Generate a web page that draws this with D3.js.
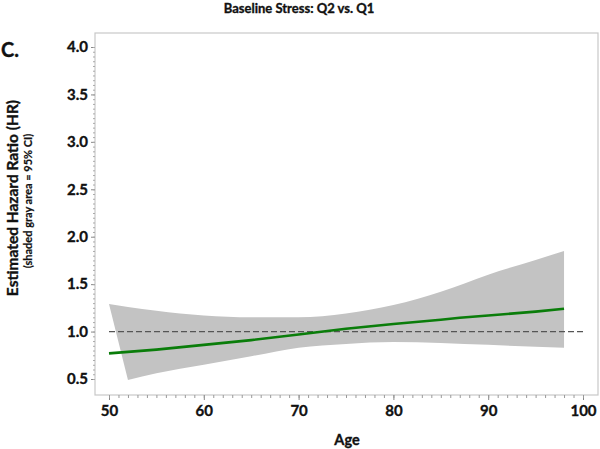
<!DOCTYPE html>
<html><head><meta charset="utf-8">
<script src="https://cdn.jsdelivr.net/npm/d3@7"></script>
<style>
html,body{margin:0;padding:0;background:#fff;}
text{font-family:Lato,"Open Sans",sans-serif;font-weight:bold;fill:#111;stroke:#111;stroke-width:0.35px;}
</style></head>
<body><svg id="c" width="600" height="449"></svg>
<script>
// ---- data ----
const titleText = "Baseline Stress: Q2 vs. Q1";
const panelLabel = "C.";
const xLabel = "Age";
const yLabel = "Estimated Hazard Ratio (HR)";
const ySubLabel = "(shaded gray area = 95% CI)";
const xTicks = [50, 60, 70, 80, 90, 100];
const yTicks = [0.5, 1.0, 1.5, 2.0, 2.5, 3.0, 3.5, 4.0];
const estAges = [50, 55, 60, 65, 70, 75, 80, 85, 87, 90, 95, 98];
const estHR   = [0.77, 0.81, 0.86, 0.91, 0.97, 1.03, 1.08, 1.125, 1.145, 1.17, 1.21, 1.24];
const upperAges = [50, 52, 55, 60, 65, 70, 75, 80, 85, 90, 95, 98];
const upperHR   = [1.29, 1.26, 1.22, 1.17, 1.15, 1.15, 1.19, 1.28, 1.42, 1.60, 1.755, 1.85];
const lowerAges = [52, 55, 60, 65, 70, 75, 80, 85, 90, 95, 98];
const lowerHR   = [0.49, 0.56, 0.65, 0.74, 0.83, 0.87, 0.89, 0.88, 0.86, 0.84, 0.83];
const refHR = 1.0;
const refAges = [50, 100];

// ---- layout ----
const svg = d3.select("#c");
const frame = {l: 95, r: 598, t: 33, b: 395};
const x = d3.scaleLinear().domain([50, 100]).range([109, 583]);
const y = d3.scaleLinear().domain([0.5, 4.0]).range([379, 47]);

// CI band
const smooth = d3.line().curve(d3.curveMonotoneX);
const upPts = upperAges.map((a, i) => [x(a), y(upperHR[i])]);
const loPts = lowerAges.map((a, i) => [x(a), y(lowerHR[i])]).reverse();
const bandD = smooth(upPts) + smooth(loPts).replace(/^M/, "L") + "Z";
svg.append("path").attr("d", bandD).attr("fill", "#c3c3c3").attr("stroke", "none");

// reference line
svg.append("line").attr("x1", x(refAges[0])).attr("x2", x(refAges[1]))
  .attr("y1", y(refHR)).attr("y2", y(refHR))
  .attr("stroke", "#555").attr("stroke-width", 1.3).attr("stroke-dasharray", "6,3");

// estimate line
const line = d3.line().x((d, i) => x(estAges[i])).y(d => y(d));
svg.append("path").attr("d", line(estHR)).attr("fill", "none")
  .attr("stroke", "#0a7d0a").attr("stroke-width", 2.6);

// frame
svg.append("rect").attr("x", frame.l).attr("y", frame.t)
  .attr("width", frame.r - frame.l).attr("height", frame.b - frame.t)
  .attr("fill", "none").attr("stroke", "#c8c8c8").attr("stroke-width", 1.2);

// x axis
const xAxis = d3.axisBottom(x).tickValues(xTicks).tickSize(5).tickPadding(5).tickFormat(d3.format("d"));
const gx = svg.append("g").attr("transform", `translate(0,${frame.b})`).call(xAxis);
gx.select(".domain").remove();
gx.selectAll("line").attr("stroke", "#888");
gx.selectAll("text").style("font-size", "15px").attr("fill", "#111");
const gxm = svg.append("g").attr("transform", `translate(0,${frame.b})`)
  .call(d3.axisBottom(x).tickValues(d3.range(50, 101, 1)).tickSize(3).tickFormat(""));
gxm.select(".domain").remove();
gxm.selectAll("line").attr("stroke", "#999");

// y axis
const yAxis = d3.axisLeft(y).tickValues(yTicks).tickSize(4).tickPadding(3).tickFormat(d3.format(".1f"));
const gy = svg.append("g").attr("transform", `translate(${frame.l},0)`).call(yAxis);
gy.select(".domain").remove();
gy.selectAll("line").attr("stroke", "#888");
gy.selectAll("text").style("font-size", "15px").attr("fill", "#111");
const gym = svg.append("g").attr("transform", `translate(${frame.l},0)`)
  .call(d3.axisLeft(y).tickValues(d3.range(0.5, 4.001, 0.05)).tickSize(2).tickFormat(""));
gym.select(".domain").remove();
gym.selectAll("line").attr("stroke", "#aaa");

// texts
svg.append("text").attr("x", 299).attr("y", 13).attr("text-anchor", "middle")
  .style("font-size", "13px").text(titleText);
svg.append("text").attr("x", 1).attr("y", 57).style("font-size", "20px").text(panelLabel);
svg.append("text").attr("transform", "translate(18,198) rotate(-90)").attr("text-anchor", "middle")
  .style("font-size", "15.5px").text(yLabel);
svg.append("text").attr("transform", "translate(32,201) rotate(-90)").attr("text-anchor", "middle")
  .style("font-size", "11px").style("stroke-width", "0.2px").text(ySubLabel);
svg.append("text").attr("x", 347).attr("y", 445).attr("text-anchor", "middle")
  .style("font-size", "14.5px").text(xLabel);
</script></body></html>
